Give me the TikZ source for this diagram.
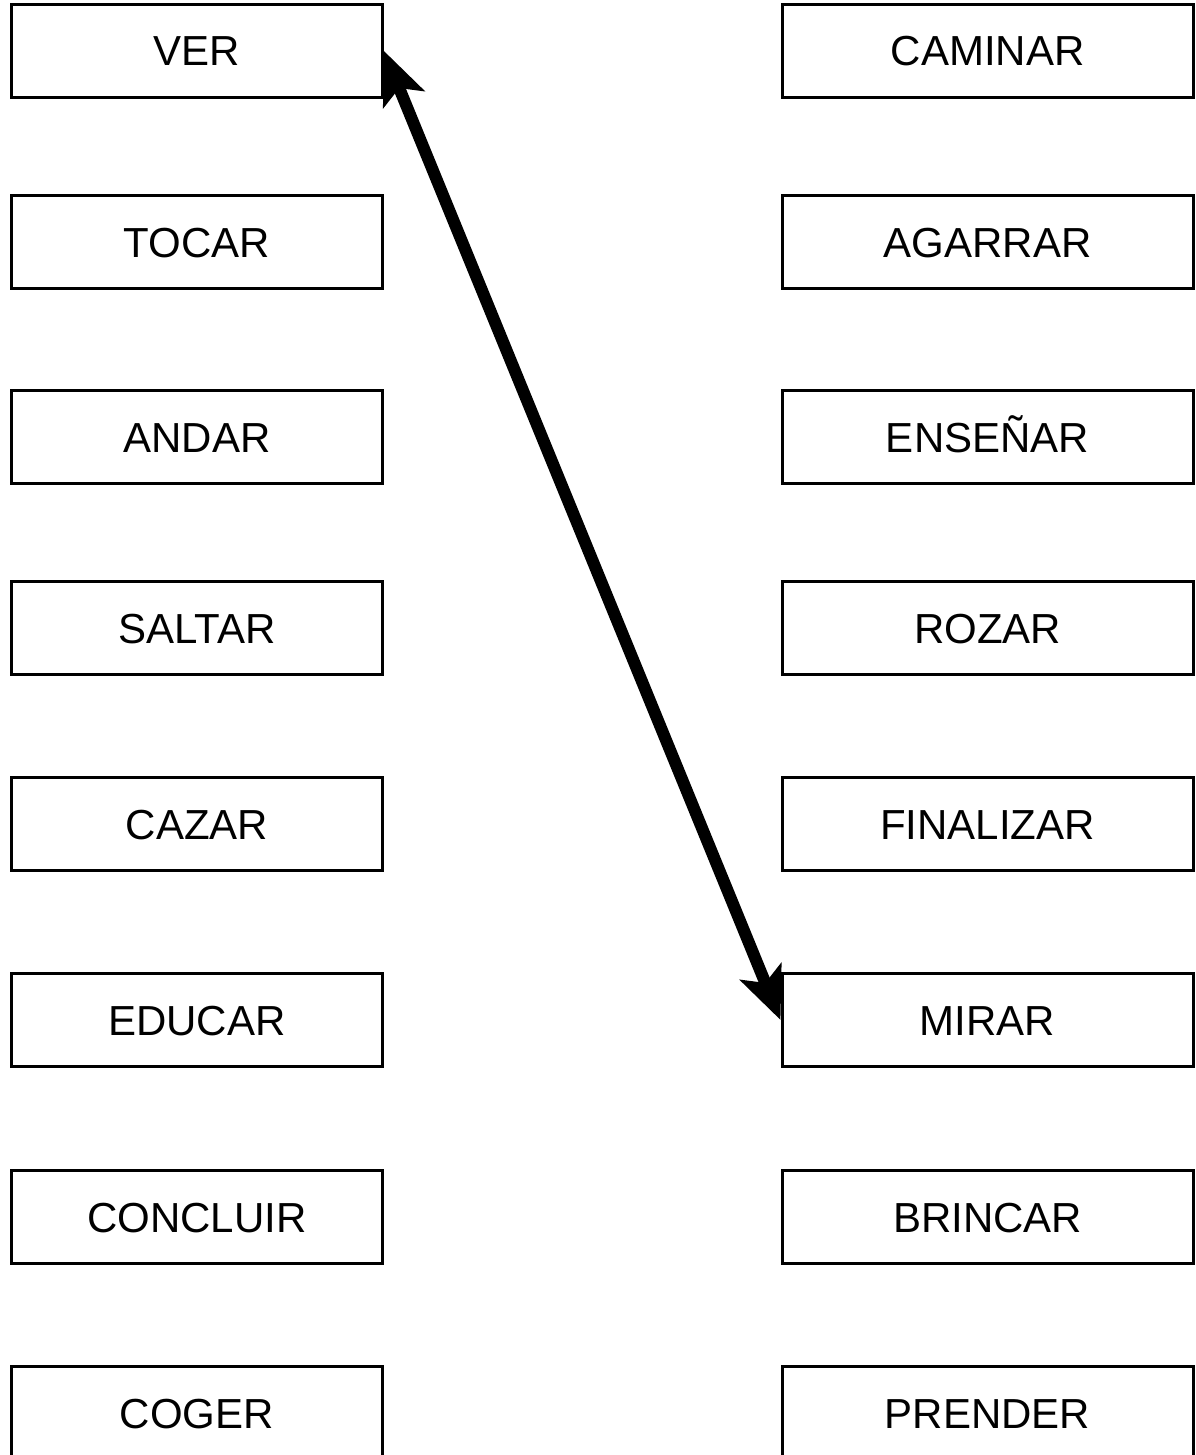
\documentclass[tikz,border=0pt]{standalone}
\usepackage{fontspec}
\setmainfont{Liberation Sans}
\usetikzlibrary{arrows.meta}

\begin{document}
\begin{tikzpicture}[x=0.5pt, y=-0.5pt,
    word/.style={rectangle, draw=black, line width=1.5pt, inner sep=0pt,
      minimum height=46.5pt, text height=15pt, text depth=0pt,
      font=\fontsize{21}{25}\selectfont},
    lword/.style={word, minimum width=185.5pt},
    rword/.style={word, minimum width=205.5pt},
    link/.style={{Stealth[length=26pt, width=22pt, inset=6pt]}-{Stealth[length=26pt, width=22pt, inset=6pt]}, line width=6pt}]
  \useasboundingbox (0,0) rectangle (1195,1455);
  \clip (0,0) rectangle (1195,1455);

  \node (ver)      [lword] at (197,51)   {VER};
  \node (tocar)    [lword] at (197,242)  {TOCAR};
  \node (andar)    [lword] at (197,437)  {ANDAR};
  \node (saltar)   [lword] at (197,628)  {SALTAR};
  \node (cazar)    [lword] at (197,824)  {CAZAR};
  \node (educar)   [lword] at (197,1020) {EDUCAR};
  \node (concluir) [lword] at (197,1217) {CONCLUIR};
  \node (coger)    [lword] at (197,1413) {COGER};

  \node (caminar)   [rword] at (987.5,51)   {CAMINAR};
  \node (agarrar)   [rword] at (987.5,242)  {AGARRAR};
  \node (ensenar)   [rword] at (987.5,437)  {ENSEÑAR};
  \node (rozar)     [rword] at (987.5,628)  {ROZAR};
  \node (finalizar) [rword] at (987.5,824)  {FINALIZAR};
  \node (mirar)     [rword] at (987.5,1020) {MIRAR};
  \node (brincar)   [rword] at (987.5,1217) {BRINCAR};
  \node (prender)   [rword] at (987.5,1413) {PRENDER};

  \path [link]
  (ver.east) edge node {} (mirar.west);
\end{tikzpicture}
\end{document}
